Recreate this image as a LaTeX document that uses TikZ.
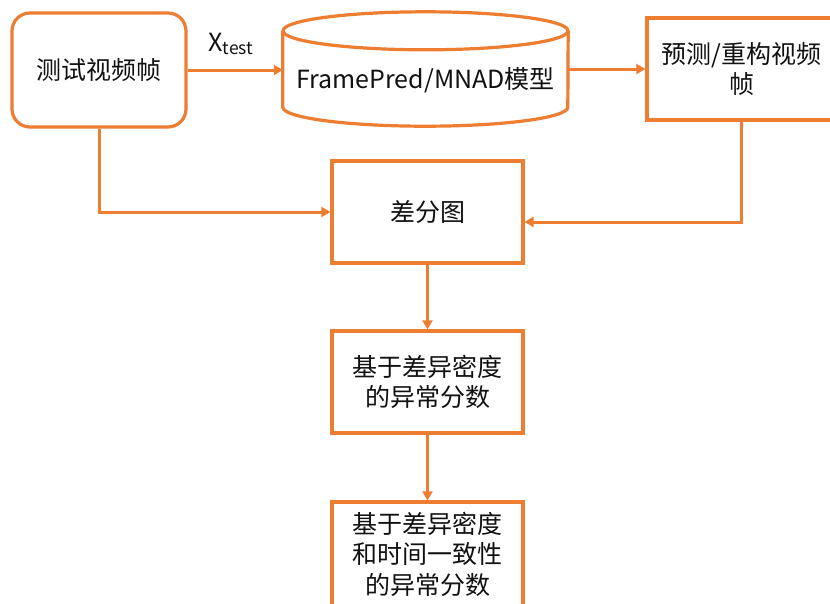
\documentclass[tikz,border=0pt]{standalone}
\usepackage{fontspec}
\setmainfont{Noto Sans CJK SC}
\usetikzlibrary{arrows.meta}
\definecolor{orng}{HTML}{ED7D31}
\definecolor{txt}{HTML}{111111}
\tikzset{
  box/.style={draw=orng, line width=3.2pt, fill=white, inner sep=0pt, align=center,
    text=txt, font=\fontsize{25}{30.5}\selectfont},
  conn/.style={draw=orng, line width=3pt, -{Triangle[length=9pt,width=10pt]}},
  plain/.style={draw=orng, line width=3.2pt},
}
\begin{document}
\begin{tikzpicture}[x=1pt,y=-1pt]
\clip (0,0) rectangle (830,603);
\fill[white] (0,0) rectangle (830,603);
% nodes
\node[box, rounded corners=18pt, minimum width=174pt, minimum height=114pt] (src) at (99,70) {测试视频帧};
\node[inner sep=0pt, minimum width=285pt, minimum height=114pt] (cyl) at (425.5,69) {};
\draw[plain] ([yshift=-19pt]cyl.north) ellipse [x radius=142.5pt, y radius=19pt];
\draw[plain] ([yshift=-19pt]cyl.north west) -- ([yshift=19pt]cyl.south west)
  arc[start angle=180, end angle=360, x radius=142.5pt, y radius=19pt]
  -- ([yshift=-19pt]cyl.north east);
\node[text=txt, font=\fontsize{25}{30}\selectfont] (cyltext) at (425.5,80) {FramePred/MNAD模型};
\node[box, minimum width=189pt, minimum height=102pt] (pred) at (741.5,69) {预测/重构视频\\帧};
\node[box, minimum width=191pt, minimum height=102pt] (diff) at (427.5,212) {差分图};
\node[box, minimum width=191pt, minimum height=102pt] (s1) at (427.5,382) {基于差异密度\\的异常分数};
\node[box, minimum width=191pt, minimum height=104pt] (s2) at (427.5,554) {基于差异密度\\和时间一致性\\的异常分数};
% connectors
\draw[conn] (src.east) -- (cyl.west |- src.east);
\node[text=txt, font=\fontsize{25}{30}\selectfont, inner sep=0pt] (xl) at (231,44) {X\textsubscript{test}};
\draw[conn] (cyl.east |- pred.west) -- (pred.west);
\draw[conn] (src.south) |- (diff.west);
\draw[conn] (pred.south) |- ([yshift=-10pt]diff.east);
\draw[conn] (diff.south) -- (s1.north);
\draw[conn] (s1.south) -- (s2.north);
\end{tikzpicture}
\end{document}
